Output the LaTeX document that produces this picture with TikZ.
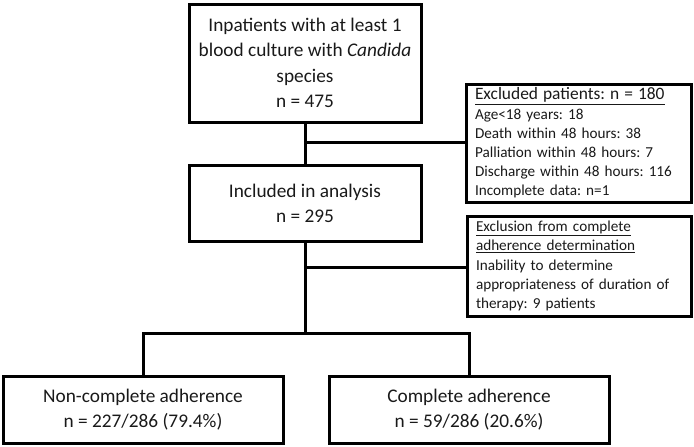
\documentclass[tikz,border=0pt]{standalone}
\usepackage{fontspec}
\setmainfont{Carlito}
\frenchspacing
\begin{document}
\begin{tikzpicture}[x=1pt,y=-1pt,
  box/.style={draw=black,line width=3pt,inner sep=0pt,align=center,text=black!90},
  topfont/.style={font=\fontsize{19.3}{25.5}\selectfont},
  bigfont/.style={font=\fontsize{19.3}{25}\selectfont},
  smallfont/.style={font=\fontsize{15.2}{19.2}\selectfont},
  conn/.style={draw=black,line width=3pt}]
\useasboundingbox (0,0) rectangle (694,447);
\node[box,topfont,minimum width=232,minimum height=118] (top) at (305,63)
  {Inpatients with at least 1\\blood culture with \textit{Candida}\\species\\n = 475};
\node[box,bigfont,minimum width=232,minimum height=76] (mid) at (305,203)
  {Included in analysis\\n = 295};
\node[box,smallfont,minimum width=225,minimum height=118,align=left,text width=207,inner xsep=9pt] (ex1) at (578.5,143)
  {{\fontsize{17.4}{20}\selectfont\underline{Excluded patients: n = 180}}\\Age<18 years: 18\\Death within 48 hours: 38\\Palliation within 48 hours: 7\\Discharge within 48 hours: 116\\Incomplete data: n=1};
\node[box,smallfont,minimum width=224,minimum height=100,align=left,text width=206,inner xsep=9pt] (ex2) at (579,266)
  {\underline{Exclusion from complete}\\\underline{adherence determination}\\Inability to determine\\appropriateness of duration of\\therapy: 9 patients};
\node[box,bigfont,minimum width=280,minimum height=67] (nc) at (143,409.5)
  {Non-complete adherence\\n = 227/286 (79.4\%)};
\node[box,bigfont,minimum width=280,minimum height=67] (ca) at (469,409.5)
  {Complete adherence\\n = 59/286 (20.6\%)};
\coordinate (j1) at (305,142);
\coordinate (j2) at (305,267);
\coordinate (j3) at (305,333);
\draw[conn] (top.south) -- (mid.north);
\draw[conn] (j1) -- (j1 -| ex1.west);
\draw[conn] (mid.south) -- (j3);
\draw[conn] (j2) -- (j2 -| ex2.west);
\draw[conn] (nc.north) |- (j3) -| (ca.north);
\end{tikzpicture}
\end{document}
